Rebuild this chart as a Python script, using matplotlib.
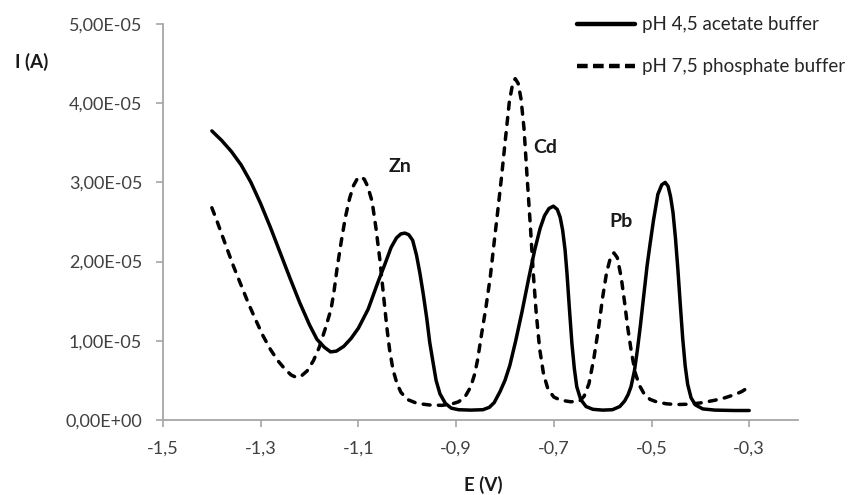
import matplotlib
matplotlib.use("Agg")
import matplotlib.pyplot as plt
from matplotlib.ticker import FuncFormatter, MultipleLocator

plt.rcParams['font.family'] = ['Lato', 'DejaVu Sans']

# pH 4,5 acetate buffer (E in V, I in 1e-5 A)
E_acetate = [-1.400, -1.380, -1.360, -1.340, -1.320, -1.300, -1.280, -1.260, -1.240, -1.220,
             -1.200, -1.185, -1.170, -1.157, -1.145, -1.130, -1.115, -1.100, -1.080, -1.060,
             -1.045, -1.033, -1.022, -1.013, -1.005, -0.997, -0.989, -0.981, -0.974, -0.967,
             -0.960, -0.954, -0.947, -0.941, -0.933, -0.922, -0.910, -0.895, -0.870, -0.845,
             -0.832, -0.822, -0.810, -0.800, -0.790, -0.778, -0.765, -0.752, -0.739, -0.728,
             -0.719, -0.710, -0.701, -0.693, -0.687, -0.682, -0.677, -0.673, -0.668, -0.663,
             -0.658, -0.653, -0.645, -0.634, -0.620, -0.600, -0.580, -0.565, -0.555, -0.548,
             -0.542, -0.535, -0.529, -0.523, -0.515, -0.509, -0.503, -0.496, -0.487, -0.479,
             -0.472, -0.466, -0.461, -0.456, -0.451, -0.446, -0.441, -0.436, -0.431, -0.426,
             -0.419, -0.410, -0.395, -0.370, -0.330, -0.300]
I_acetate = [3.65, 3.53, 3.39, 3.22, 3.00, 2.73, 2.43, 2.11, 1.79, 1.48,
             1.20, 1.02, 0.92, 0.86, 0.87, 0.93, 1.03, 1.16, 1.40, 1.74,
             1.98, 2.18, 2.30, 2.35, 2.36, 2.34, 2.27, 2.08, 1.85, 1.58,
             1.28, 0.98, 0.72, 0.50, 0.33, 0.21, 0.15, 0.13, 0.125, 0.13,
             0.16, 0.22, 0.36, 0.50, 0.69, 1.00, 1.37, 1.77, 2.15, 2.42,
             2.58, 2.67, 2.70, 2.66, 2.56, 2.40, 2.15, 1.85, 1.40, 0.97,
             0.65, 0.42, 0.26, 0.17, 0.135, 0.125, 0.13, 0.17, 0.24, 0.32,
             0.42, 0.62, 0.88, 1.18, 1.62, 1.95, 2.22, 2.52, 2.85, 2.97,
             3.00, 2.95, 2.82, 2.62, 2.30, 1.90, 1.45, 1.02, 0.68, 0.45,
             0.28, 0.19, 0.14, 0.125, 0.12, 0.12]

# pH 7,5 phosphate buffer
E_phosphate = [-1.400, -1.390, -1.380, -1.370, -1.355, -1.340, -1.325, -1.310, -1.295, -1.280,
               -1.265, -1.250, -1.238, -1.228, -1.218, -1.205, -1.192, -1.180, -1.168, -1.156,
               -1.150, -1.144, -1.136, -1.127, -1.118, -1.110, -1.102, -1.095, -1.088, -1.081,
               -1.072, -1.064, -1.056, -1.049, -1.042, -1.036, -1.029, -1.021, -1.013, -1.000,
               -0.980, -0.955, -0.930, -0.910, -0.895, -0.882, -0.870, -0.862, -0.856, -0.848,
               -0.839, -0.830, -0.822, -0.814, -0.807, -0.799, -0.791, -0.785, -0.779, -0.773,
               -0.767, -0.761, -0.755, -0.748, -0.742, -0.736, -0.729, -0.721, -0.712, -0.700,
               -0.686, -0.665, -0.647, -0.638, -0.628, -0.618, -0.608, -0.600, -0.592, -0.584,
               -0.577, -0.570, -0.562, -0.555, -0.549, -0.541, -0.533, -0.525, -0.516, -0.503,
               -0.490, -0.470, -0.450, -0.420, -0.395, -0.370, -0.350, -0.330, -0.315, -0.300]
I_phosphate = [2.68, 2.52, 2.35, 2.18, 1.93, 1.70, 1.47, 1.26, 1.06, 0.89,
               0.75, 0.64, 0.57, 0.54, 0.55, 0.62, 0.75, 0.92, 1.15, 1.40,
               1.62, 1.90, 2.22, 2.55, 2.80, 2.96, 3.05, 3.07, 3.04, 2.95,
               2.76, 2.42, 2.02, 1.60, 1.18, 0.88, 0.63, 0.46, 0.35, 0.26,
               0.21, 0.19, 0.185, 0.20, 0.23, 0.29, 0.42, 0.58, 0.76, 1.08,
               1.42, 1.81, 2.25, 2.68, 3.07, 3.55, 4.02, 4.22, 4.31, 4.25,
               4.05, 3.68, 3.10, 2.45, 1.85, 1.35, 0.90, 0.58, 0.39, 0.29,
               0.25, 0.23, 0.24, 0.30, 0.46, 0.78, 1.18, 1.55, 1.86, 2.05,
               2.11, 2.05, 1.80, 1.48, 1.18, 0.85, 0.59, 0.44, 0.34, 0.26,
               0.23, 0.205, 0.195, 0.20, 0.22, 0.25, 0.28, 0.32, 0.36, 0.42]

peak_labels = ["Zn", "Cd", "Pb"]
peak_label_E = [-1.015, -0.717, -0.563]
peak_label_I = [3.20, 3.44, 2.51]

x_ticks = [-1.5, -1.3, -1.1, -0.9, -0.7, -0.5, -0.3]

fig = plt.figure(figsize=(8.49, 4.95), dpi=100)
ax = fig.add_axes([0.192, 0.1515, 0.748, 0.80])

scale = 1e-5
ax.plot(E_acetate, [v * scale for v in I_acetate], color="black", lw=2.5,
        solid_capstyle="round", solid_joinstyle="round", label="pH 4,5 acetate buffer")
ax.plot(E_phosphate, [v * scale for v in I_phosphate], color="black", lw=2.5,
        linestyle=(0, (2.0, 2.4)), dash_capstyle="round", dash_joinstyle="round",
        label="pH 7,5 phosphate buffer")

for t, xe, yi in zip(peak_labels, peak_label_E, peak_label_I):
    ax.text(xe, yi * scale, t, ha="center", va="center", fontsize=14,
            fontweight="bold", color="#1a1a1a")

ax.set_xlim(-1.5, -0.2)
ax.set_ylim(0, 5e-5)
ax.set_xticks(x_ticks)
ax.yaxis.set_major_locator(MultipleLocator(1e-5))
ax.xaxis.set_major_formatter(FuncFormatter(lambda v, p: ("%.1f" % v).replace(".", ",")))


def sci_comma(v, p):
    if abs(v) < 1e-12:
        return "0,00E+00"
    return ("%.2E" % v).replace(".", ",")


ax.yaxis.set_major_formatter(FuncFormatter(sci_comma))

for side in ["top", "right"]:
    ax.spines[side].set_visible(False)
for side in ["left", "bottom"]:
    ax.spines[side].set_color("#a6a6a6")
    ax.spines[side].set_linewidth(1.3)
ax.tick_params(axis="both", colors="#a6a6a6", labelcolor="#404040", labelsize=13,
               length=5, width=1.2, direction="out")
ax.tick_params(axis="y", pad=10)
ax.tick_params(axis="x", pad=10)

fig.text(0.018, 0.875, "I (A)", fontsize=13.5, fontweight="bold", color="#1a1a1a",
         ha="left", va="center")
fig.text(0.569, 0.020, "E (V)", fontsize=13.5, fontweight="bold", color="#1a1a1a",
         ha="center", va="center")

leg = ax.legend(loc="upper left", bbox_to_anchor=(0.652, 1.02), frameon=False,
                fontsize=13.5, handlelength=3.1, handletextpad=0.37, labelspacing=1.35,
                borderaxespad=0, borderpad=0, labelcolor="#262626")
for line in leg.get_lines():
    line.set_linewidth(3.2)
    if line.get_linestyle() != "-":
        line.set_dash_capstyle("butt")
        line.set_dashes((2.4, 1.2))

fig.savefig("out.png", dpi=100)
